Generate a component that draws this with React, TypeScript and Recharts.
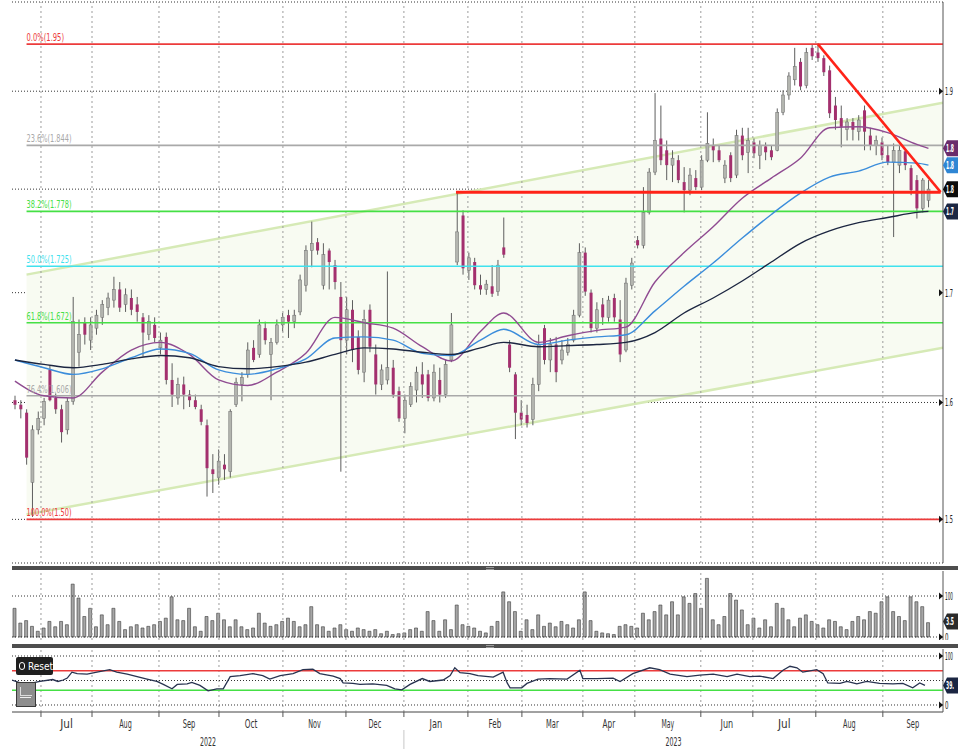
import React from 'react'
import { ComposedChart, Bar, Line, Area, XAxis, YAxis, CartesianGrid, ReferenceLine, ReferenceDot } from 'recharts'

// one slot = two sessions, x axis runs in slots (0..160)
// [open, high, low, close]
const candles: number[][] = [
  [1.602, 1.606, 1.594, 1.598], [1.598, 1.602, 1.586, 1.594], [1.591, 1.594, 1.546, 1.552], [1.531, 1.58, 1.502, 1.576],
  [1.576, 1.592, 1.572, 1.586], [1.586, 1.604, 1.58, 1.601], [1.629, 1.633, 1.601, 1.602], [1.604, 1.608, 1.59, 1.594],
  [1.594, 1.598, 1.565, 1.574], [1.576, 1.604, 1.572, 1.601], [1.601, 1.696, 1.598, 1.673], [1.645, 1.675, 1.632, 1.661],
  [1.672, 1.677, 1.652, 1.661], [1.656, 1.677, 1.647, 1.67], [1.667, 1.684, 1.661, 1.679], [1.677, 1.693, 1.67, 1.689],
  [1.686, 1.7, 1.679, 1.695], [1.693, 1.715, 1.686, 1.703], [1.703, 1.71, 1.682, 1.686], [1.689, 1.704, 1.682, 1.698],
  [1.695, 1.703, 1.679, 1.684], [1.689, 1.696, 1.673, 1.682], [1.677, 1.681, 1.641, 1.663], [1.661, 1.679, 1.656, 1.673],
  [1.67, 1.677, 1.654, 1.658], [1.649, 1.663, 1.643, 1.656], [1.659, 1.663, 1.616, 1.62], [1.62, 1.635, 1.596, 1.607],
  [1.604, 1.622, 1.598, 1.616], [1.616, 1.623, 1.594, 1.607], [1.607, 1.611, 1.596, 1.602], [1.602, 1.607, 1.594, 1.596],
  [1.594, 1.598, 1.58, 1.583], [1.58, 1.585, 1.519, 1.543], [1.542, 1.555, 1.522, 1.538], [1.535, 1.559, 1.529, 1.549],
  [1.546, 1.555, 1.533, 1.542], [1.54, 1.594, 1.535, 1.592], [1.598, 1.622, 1.596, 1.618], [1.616, 1.627, 1.601, 1.622],
  [1.625, 1.654, 1.622, 1.647], [1.649, 1.656, 1.636, 1.638], [1.643, 1.675, 1.64, 1.67], [1.667, 1.673, 1.652, 1.656],
  [1.643, 1.658, 1.602, 1.654], [1.654, 1.675, 1.652, 1.67], [1.67, 1.681, 1.664, 1.677], [1.679, 1.684, 1.658, 1.673],
  [1.673, 1.684, 1.667, 1.679], [1.682, 1.717, 1.679, 1.712], [1.707, 1.745, 1.701, 1.74], [1.74, 1.768, 1.724, 1.747],
  [1.748, 1.752, 1.736, 1.74], [1.707, 1.747, 1.703, 1.736], [1.74, 1.742, 1.703, 1.729], [1.726, 1.731, 1.703, 1.71],
  [1.696, 1.71, 1.54, 1.656], [1.656, 1.696, 1.643, 1.684], [1.684, 1.693, 1.636, 1.647], [1.659, 1.665, 1.625, 1.629],
  [1.627, 1.684, 1.618, 1.675], [1.684, 1.689, 1.645, 1.65], [1.643, 1.652, 1.607, 1.616], [1.616, 1.634, 1.611, 1.629],
  [1.62, 1.72, 1.616, 1.631], [1.631, 1.638, 1.604, 1.607], [1.61, 1.614, 1.583, 1.586], [1.586, 1.607, 1.573, 1.602],
  [1.598, 1.618, 1.596, 1.614], [1.611, 1.632, 1.6, 1.627], [1.625, 1.636, 1.604, 1.616], [1.625, 1.629, 1.601, 1.604],
  [1.604, 1.634, 1.601, 1.627], [1.62, 1.631, 1.6, 1.607], [1.607, 1.638, 1.604, 1.634], [1.638, 1.681, 1.636, 1.67],
  [1.729, 1.796, 1.726, 1.758], [1.774, 1.779, 1.717, 1.723], [1.721, 1.738, 1.712, 1.733], [1.729, 1.733, 1.703, 1.707],
  [1.707, 1.717, 1.698, 1.703], [1.703, 1.712, 1.698, 1.708], [1.706, 1.726, 1.696, 1.699], [1.701, 1.731, 1.697, 1.726],
  [1.743, 1.772, 1.733, 1.736], [1.652, 1.656, 1.627, 1.631], [1.625, 1.627, 1.568, 1.591], [1.591, 1.602, 1.58, 1.585],
  [1.589, 1.598, 1.578, 1.582], [1.585, 1.622, 1.58, 1.616], [1.616, 1.661, 1.61, 1.652], [1.667, 1.67, 1.634, 1.638],
  [1.638, 1.658, 1.627, 1.652], [1.652, 1.659, 1.618, 1.627], [1.638, 1.656, 1.634, 1.647], [1.645, 1.658, 1.642, 1.652],
  [1.656, 1.684, 1.654, 1.679], [1.679, 1.747, 1.677, 1.738], [1.738, 1.743, 1.697, 1.701], [1.7, 1.703, 1.663, 1.667],
  [1.667, 1.691, 1.663, 1.684], [1.689, 1.695, 1.67, 1.677], [1.677, 1.697, 1.673, 1.693], [1.695, 1.699, 1.673, 1.677],
  [1.675, 1.693, 1.636, 1.643], [1.647, 1.714, 1.645, 1.709], [1.707, 1.733, 1.703, 1.728], [1.75, 1.754, 1.742, 1.745],
  [1.745, 1.802, 1.742, 1.777], [1.777, 1.821, 1.775, 1.817], [1.817, 1.898, 1.814, 1.849], [1.851, 1.885, 1.824, 1.829],
  [1.839, 1.849, 1.809, 1.824], [1.824, 1.839, 1.807, 1.831], [1.829, 1.834, 1.806, 1.809], [1.807, 1.822, 1.777, 1.799],
  [1.799, 1.821, 1.794, 1.814], [1.811, 1.819, 1.799, 1.802], [1.802, 1.834, 1.799, 1.829], [1.829, 1.878, 1.827, 1.846],
  [1.844, 1.851, 1.827, 1.839], [1.839, 1.844, 1.827, 1.829], [1.811, 1.829, 1.806, 1.824], [1.834, 1.837, 1.807, 1.811],
  [1.814, 1.86, 1.811, 1.854], [1.854, 1.862, 1.829, 1.834], [1.837, 1.862, 1.816, 1.849], [1.847, 1.851, 1.831, 1.836],
  [1.834, 1.849, 1.82, 1.844], [1.843, 1.847, 1.829, 1.837], [1.839, 1.844, 1.829, 1.832], [1.839, 1.882, 1.838, 1.878],
  [1.878, 1.901, 1.875, 1.896], [1.896, 1.92, 1.891, 1.916], [1.912, 1.946, 1.906, 1.926], [1.931, 1.935, 1.901, 1.905],
  [1.906, 1.946, 1.903, 1.941], [1.946, 1.95, 1.933, 1.937], [1.941, 1.951, 1.931, 1.935], [1.935, 1.938, 1.916, 1.92],
  [1.922, 1.927, 1.872, 1.877], [1.885, 1.894, 1.86, 1.87], [1.872, 1.885, 1.842, 1.863], [1.86, 1.872, 1.849, 1.868],
  [1.868, 1.872, 1.849, 1.86], [1.858, 1.875, 1.849, 1.87], [1.88, 1.885, 1.839, 1.858], [1.854, 1.862, 1.839, 1.844],
  [1.844, 1.854, 1.834, 1.849], [1.847, 1.852, 1.829, 1.834], [1.834, 1.844, 1.824, 1.827], [1.827, 1.846, 1.753, 1.839],
  [1.824, 1.844, 1.816, 1.839], [1.838, 1.839, 1.819, 1.824], [1.821, 1.824, 1.794, 1.799], [1.809, 1.814, 1.771, 1.781],
  [1.781, 1.811, 1.777, 1.809], [1.789, 1.809, 1.782, 1.8],
]

const volumes = [
  70, 34, 40, 26, 14, 22, 38, 25, 38, 30, 129, 95, 50, 70, 25, 54, 30, 70, 38, 18,
  25, 30, 22, 26, 30, 38, 46, 98, 42, 40, 70, 25, 14, 50, 40, 58, 42, 25, 42, 25,
  18, 22, 58, 34, 26, 30, 38, 46, 38, 25, 30, 74, 30, 25, 14, 22, 30, 18, 14, 22,
  18, 14, 18, 8, 14, 6, 8, 10, 18, 22, 14, 62, 40, 14, 42, 18, 78, 30, 26, 22,
  14, 10, 26, 38, 110, 86, 62, 14, 42, 18, 54, 26, 34, 25, 38, 30, 22, 42, 110, 40,
  14, 10, 8, 6, 26, 30, 26, 22, 58, 42, 62, 78, 54, 86, 54, 98, 82, 106, 70, 143,
  42, 30, 50, 106, 90, 66, 30, 46, 22, 42, 25, 82, 70, 42, 25, 46, 54, 38, 30, 22,
  42, 38, 25, 18, 38, 50, 42, 62, 58, 86, 98, 62, 50, 40, 98, 86, 74, 35,
]

// moving averages read at these candle slots
const maSlots = [0, 5, 10, 15, 20, 25, 30, 35, 40, 45, 50, 55, 60, 65, 70, 75, 80, 84, 90, 95, 100, 105, 110, 115, 120, 125, 130, 135, 140, 145, 150, 155, 157]
const maFast = [1.619, 1.606, 1.604, 1.627, 1.647, 1.654, 1.643, 1.62, 1.615, 1.627, 1.644, 1.677, 1.672, 1.667, 1.65, 1.637, 1.664, 1.681, 1.654, 1.66, 1.665, 1.668, 1.71, 1.738, 1.763, 1.791, 1.811, 1.831, 1.862, 1.863, 1.857, 1.845, 1.841]
const maMid = [1.638, 1.631, 1.625, 1.63, 1.64, 1.648, 1.644, 1.629, 1.625, 1.63, 1.639, 1.658, 1.659, 1.656, 1.644, 1.642, 1.656, 1.666, 1.652, 1.656, 1.659, 1.661, 1.683, 1.706, 1.728, 1.752, 1.775, 1.796, 1.812, 1.818, 1.827, 1.826, 1.824]
const maSlow = [1.638, 1.634, 1.631, 1.634, 1.639, 1.642, 1.64, 1.632, 1.63, 1.632, 1.636, 1.643, 1.649, 1.648, 1.645, 1.643, 1.649, 1.654, 1.65, 1.651, 1.652, 1.654, 1.663, 1.681, 1.695, 1.711, 1.729, 1.747, 1.759, 1.767, 1.772, 1.777, 1.778]

const rsiX = [
  0, 1.4, 2.6, 3.6, 4.8, 7.0, 7.9, 8.8, 9.5, 10.3, 11.2, 12.9, 14.6, 16.8, 18.0, 19.8, 21.5, 23.2, 24.9, 26.0,
  27.5, 28.4, 30.1, 30.9, 32.3, 33.7, 35.2, 36.3, 37.5, 39.2, 41.4, 43.1, 44.3, 46.1, 48.3, 50.0, 51.7, 52.9, 55.2, 56.4,
  56.9, 58.6, 59.8, 62.0, 64.4, 65.8, 67.0, 68.4, 70.5, 71.8, 74.1, 75.3, 76.1, 77.0, 78.7, 80.1, 82.7, 84.4, 85.1, 85.6,
  87.6, 88.5, 90.4, 92.4, 95.4, 97.6, 98.1, 100.5, 103.3, 104.5, 106.7, 109.6, 111.3, 113.1, 116.0, 118.2, 120.5, 122.9, 124.6, 126.8,
  128.5, 130.8, 132.5, 133.7, 134.9, 135.9, 138.3, 139.4, 140.2, 142.3, 143.5, 145.2, 146.9, 149.1, 151.4, 153.1, 154.8, 156.0, 156.9,
]
const rsiVal = [
  51, 45, 35, 45, 48, 52, 48, 51, 55, 67, 64, 63, 67, 72, 67, 63, 58, 53, 48, 42,
  33, 42, 43, 46, 40, 29, 33, 33, 58, 60, 64, 60, 53, 60, 64, 72, 73, 64, 59, 54,
  45, 44, 42, 43, 40, 33, 31, 42, 54, 48, 51, 60, 76, 66, 64, 60, 57, 67, 45, 35,
  35, 44, 53, 54, 53, 71, 54, 54, 55, 48, 64, 76, 72, 63, 58, 61, 63, 58, 63, 58,
  59, 54, 71, 79, 76, 67, 72, 64, 45, 44, 48, 43, 48, 44, 43, 44, 35, 45, 40,
]

const monthStart = [4.98, 13.75, 25.26, 35.57, 46.56, 57.39, 67.35, 78.35, 87.63, 98.11, 107.04, 118.38, 127.32, 138.14, 149.66]
const monthNames = ['Jul', 'Aug', 'Sep', 'Oct', 'Nov', 'Dec', 'Jan', 'Feb', 'Mar', 'Apr', 'May', 'Jun', 'Jul', 'Aug', 'Sep']
const yearNames = ['2022', '2023']
const yearStart = 67.35

const fibLevels = [1.95, 1.844, 1.778, 1.725, 1.672, 1.606, 1.5]
const fibNames = ['0.0%(1.95)', '23.6%(1.844)', '38.2%(1.778)', '50.0%(1.725)', '61.8%(1.672)', '76.4%(1.606)', '100.0%(1.50)']
const fibColors = ['#ec3b3b', '#a9a9a9', '#45e045', '#3fe2ee', '#45e045', '#a9a9a9', '#ec3b3b']
const fibStart = 2.5

const channelSlots = [2.5, 160]
const channelLow = [1.504, 1.649]
const channelHigh = [1.717, 1.888]

const resistance = 1.797
const resistanceFrom = 76.3
const trendFrom = { x: 138.5, y: 1.95 }
const trendTo = { x: 159.6, y: 1.797 }

const priceTicks = [1.5, 1.6, 1.7, 1.8, 1.9]
const lastFast = 1.841
const lastMid = 1.824
const lastClose = 1.8
const lastSlow = 1.778
const lastVolume = 38
const lastRsi = 39.8

const END = 160
const FONT = "'Liberation Sans Narrow','DejaVu Sans Condensed','Liberation Sans',sans-serif"

const candleData = candles.map(([o, h, l, c], i) => ({ x: i + 0.5, o, h, l, c, range: [l, h] }))
const volData = volumes.map((v, i) => ({ x: i + 0.5, v }))
const maData = maSlots.map((s, k) => ({ x: s + 0.5, fast: maFast[k], mid: maMid[k], slow: maSlow[k] }))
const rsiData = rsiX.map((x, k) => ({ x, v: rsiVal[k] }))
const channelData = channelSlots.map((x, k) => ({ x, band: [channelLow[k], channelHigh[k]] }))
const monthMid = monthStart.map((m, k) => (m + (monthStart[k + 1] ?? END)) / 2)
const yearTicks = [yearStart / 2, yearStart, (yearStart + END) / 2]

// the side tags only have a few px before the window edge, so they show the leading digits
const short = (v: number) => String(Math.floor(v * 10) / 10)

const Candle = (props: any) => {
  const { x, y, width, height, payload } = props
  const { o, h, l, c } = payload
  const top = Math.min(y, y + height)
  const hh = Math.abs(height)
  const cx = x + width / 2
  const span = Math.log(h) - Math.log(l)
  const py = (p: number) => (span > 0 ? top + (hh * (Math.log(h) - Math.log(p))) / span : top)
  const up = c >= o
  const b1 = py(Math.max(o, c))
  const b2 = py(Math.min(o, c))
  return (
    <g>
      <line x1={cx} x2={cx} y1={top} y2={top + hh} stroke="#5e5e5e" strokeWidth={1} />
      <rect
        x={cx - 1.5}
        y={b1}
        width={3}
        height={Math.max(1, b2 - b1)}
        fill={up ? '#b3b5af' : '#a3306e'}
        stroke={up ? '#6c6c6c' : 'none'}
        strokeWidth={0.5}
      />
    </g>
  )
}

const arrowTick = (label: (v: number) => string, skip?: number) => (p: any) => {
  const v = p.payload.value
  if (v === skip) return <g />
  const s = label(v)
  return (
    <g>
      <path d={`M${p.x - 4},${p.y - 3.5}L${p.x},${p.y}L${p.x - 4},${p.y + 3.5}Z`} fill="#111" />
      <text x={p.x + 2} y={p.y + 4} fontSize={10} fill="#222" fontFamily={FONT}
        textLength={Math.min(8, s.length * 3.5)} lengthAdjust="spacingAndGlyphs">
        {s}
      </text>
    </g>
  )
}

const badge = (text: string, bg: string) => (p: any) => (
  <g>
    <path
      d={`M${p.cx},${p.cy}L${p.cx + 4},${p.cy - 8}L${p.cx + 15},${p.cy - 8}L${p.cx + 15},${p.cy + 8}L${p.cx + 4},${p.cy + 8}Z`}
      fill={bg}
    />
    <text x={p.cx + 3} y={p.cy + 4} fill="#fff" fontSize={10} fontWeight="bold" fontFamily={FONT}
      textLength={Math.min(8, text.length * 3.5)} lengthAdjust="spacingAndGlyphs">
      {text}
    </text>
  </g>
)

const fibLabel = (text: string, color: string) => (p: any) => (
  <text
    x={p.cx}
    y={p.cy - 3}
    fill={color}
    fontSize={11}
    fontFamily={FONT}
    textLength={text.length * 3.75}
    lengthAdjust="spacingAndGlyphs"
  >
    {text}
  </text>
)

const BoundaryTick = (p: any) => <line x1={p.x} x2={p.x} y1={p.y} y2={p.y + 5} stroke="#555" />

const MonthTick = (p: any) => {
  const k = monthMid.indexOf(p.payload.value)
  const name = monthNames[k] ?? ''
  return (
    <text x={p.x} y={p.y + 12} textAnchor="middle" fontSize={12} fill="#333" fontFamily={FONT}
      textLength={name.length * 4.2} lengthAdjust="spacingAndGlyphs">
      {name}
    </text>
  )
}

const YearTick = (p: any) => {
  const k = yearTicks.indexOf(p.payload.value)
  if (k === 1) return <line x1={p.x} x2={p.x} y1={p.y - 3} y2={p.y + 17} stroke="#c8c8c8" />
  const name = yearNames[k === 0 ? 0 : 1]
  return (
    <text x={p.x} y={p.y + 13} textAnchor="middle" fontSize={12} fill="#333" fontFamily={FONT}
      textLength={16} lengthAdjust="spacingAndGlyphs">
      {name}
    </text>
  )
}

const monthLines = (axis?: string) =>
  monthStart.map((m, k) => (
    <ReferenceLine key={'m' + k} xAxisId={axis} x={m} stroke="#9c9c9c" strokeDasharray="2 3" />
  ))

const MainPanel = () => (
  <ComposedChart width={958} height={566} data={candleData} margin={{ top: 2, right: 0, bottom: 3, left: 12 }}>
    <XAxis type="number" dataKey="x" domain={[0, END]} hide allowDataOverflow />
    <YAxis
      orientation="right"
      scale="log"
      domain={[1.4643, 1.9959]}
      ticks={priceTicks}
      interval={0}
      width={15}
      allowDataOverflow
      axisLine={{ stroke: '#555' }}
      tickLine={false}
      tickSize={0}
      tickMargin={0}
      tick={arrowTick((v) => v.toFixed(1), 1.8)}
    />
    <Area
      data={channelData}
      dataKey="band"
      type="linear"
      stroke="#d6eab6"
      strokeWidth={2.5}
      fill="#f8fbf2"
      fillOpacity={1}
      isAnimationActive={false}
    />
    <CartesianGrid vertical={false} stroke="#333" strokeDasharray="1 2" />
    {monthLines()}
    {fibLevels.map((lv, k) => (
      <ReferenceLine
        key={'f' + k}
        segment={[{ x: fibStart, y: lv }, { x: END, y: lv }]}
        stroke={fibColors[k]}
        strokeWidth={1.6}
        ifOverflow="visible"
      />
    ))}
    {fibLevels.map((lv, k) => (
      <ReferenceDot key={'fl' + k} x={fibStart} y={lv} r={0} shape={fibLabel(fibNames[k], fibColors[k])} ifOverflow="visible" />
    ))}
    <Bar dataKey="range" barSize={4} shape={Candle} isAnimationActive={false} />
    <Line data={maData} dataKey="fast" type="monotone" stroke="#8f4b91" strokeWidth={1.4} dot={false} isAnimationActive={false} />
    <Line data={maData} dataKey="mid" type="monotone" stroke="#3b8ddb" strokeWidth={1.4} dot={false} isAnimationActive={false} />
    <Line data={maData} dataKey="slow" type="monotone" stroke="#1c2641" strokeWidth={1.4} dot={false} isAnimationActive={false} />
    <ReferenceLine
      segment={[{ x: resistanceFrom, y: resistance }, { x: trendTo.x, y: resistance }]}
      stroke="#ff2318"
      strokeWidth={3}
      ifOverflow="visible"
    />
    <ReferenceLine segment={[trendFrom, trendTo]} stroke="#ff2318" strokeWidth={2.5} ifOverflow="visible" />
    <ReferenceDot x={END} y={lastFast} r={0} shape={badge(short(lastFast), '#6a2c6c')} ifOverflow="visible" />
    <ReferenceDot x={END} y={lastMid} r={0} shape={badge(short(lastMid), '#2f86d4')} ifOverflow="visible" />
    <ReferenceDot x={END} y={lastClose} r={0} shape={badge(short(lastClose), '#0c0c0c')} ifOverflow="visible" />
    <ReferenceDot x={END} y={lastSlow} r={0} shape={badge(short(lastSlow), '#1b2642')} ifOverflow="visible" />
  </ComposedChart>
)

const VolumePanel = () => (
  <ComposedChart width={958} height={69} data={volData} margin={{ top: 0, right: 0, bottom: 0, left: 12 }}>
    <XAxis type="number" dataKey="x" domain={[0, END]} hide allowDataOverflow />
    <YAxis
      orientation="right"
      domain={[-7.3, 161]}
      ticks={[0, 100]}
      interval={0}
      width={15}
      allowDataOverflow
      axisLine={{ stroke: '#555' }}
      tickLine={false}
      tickSize={0}
      tickMargin={0}
      tick={arrowTick((v) => String(v))}
    />
    {monthLines()}
    <ReferenceLine y={100} stroke="#333" strokeDasharray="1 2" />
    <ReferenceLine y={0} stroke="#333" strokeDasharray="1 2" />
    <Bar dataKey="v" barSize={3} fill="#a6a6a6" stroke="#3a3a3a" strokeWidth={0.6} isAnimationActive={false} />
    <ReferenceDot x={END} y={lastVolume} r={0} shape={badge('3.5', '#2a2a2a')} ifOverflow="visible" />
  </ComposedChart>
)

const RsiPanel = () => (
  <ComposedChart width={958} height={100} data={rsiData} margin={{ top: 0, right: 0, bottom: 0, left: 12 }}>
    <XAxis xAxisId="b" type="number" dataKey="x" domain={[0, END]} allowDataOverflow ticks={monthStart} interval={0}
      height={4} axisLine={{ stroke: '#444' }} tickLine={false} tickSize={0} tickMargin={0} tick={BoundaryTick} />
    <XAxis xAxisId="m" type="number" dataKey="x" domain={[0, END]} allowDataOverflow ticks={monthMid} interval={0}
      height={17} axisLine={false} tickLine={false} tickSize={0} tickMargin={0} tick={MonthTick} />
    <XAxis xAxisId="y" type="number" dataKey="x" domain={[0, END]} allowDataOverflow ticks={yearTicks} interval={0}
      height={16} axisLine={false} tickLine={false} tickSize={0} tickMargin={0} tick={YearTick} />
    <YAxis
      orientation="right"
      domain={[-14.3, 114.3]}
      ticks={[0, 100]}
      interval={0}
      width={15}
      allowDataOverflow
      axisLine={{ stroke: '#555' }}
      tickLine={false}
      tickSize={0}
      tickMargin={0}
      tick={arrowTick((v) => String(v))}
    />
    {monthLines('b')}
    <ReferenceLine xAxisId="b" y={100} stroke="#333" strokeDasharray="1 2" />
    <ReferenceLine xAxisId="b" y={50} stroke="#333" strokeDasharray="1 2" />
    <ReferenceLine xAxisId="b" y={0} stroke="#333" strokeDasharray="1 2" />
    <ReferenceLine xAxisId="b" y={70} stroke="#ec3b3b" strokeWidth={1.5} />
    <ReferenceLine xAxisId="b" y={30} stroke="#45e045" strokeWidth={1.5} />
    <Line xAxisId="b" dataKey="v" type="linear" stroke="#283350" strokeWidth={1.3} dot={false} isAnimationActive={false} />
    <ReferenceDot xAxisId="b" x={END} y={lastRsi} r={0} shape={badge(String(Math.floor(lastRsi)) + '.', '#1b2642')} ifOverflow="visible" />
  </ComposedChart>
)

const Separator = ({ top }: { top: number }) => (
  <div style={{ position: 'absolute', left: 12, top, width: 946, height: 4, background: '#4e4e4e' }}>
    <div style={{ position: 'absolute', left: 474, top: 1, width: 8, height: 1, background: '#9a9a9a' }} />
    <div style={{ position: 'absolute', left: 474, top: 3, width: 8, height: 1, background: '#9a9a9a' }} />
  </div>
)

export default function App() {
  return (
    <div style={{ position: 'absolute', left: 0, top: 0, width: 958, height: 749, background: '#fff', overflow: 'hidden' }}>
      <div style={{ position: 'absolute', left: 0, top: 0 }}>
        <MainPanel />
      </div>
      <Separator top={566} />
      <div style={{ position: 'absolute', left: 0, top: 571 }}>
        <VolumePanel />
      </div>
      <Separator top={644} />
      <div style={{ position: 'absolute', left: 0, top: 649 }}>
        <RsiPanel />
      </div>
      <div
        style={{
          position: 'absolute', left: 16, top: 657, width: 37, height: 18, background: '#1f1f1f', borderRadius: 2,
          color: '#fff', fontSize: 10, fontFamily: FONT, display: 'flex', alignItems: 'center', gap: 3, paddingLeft: 3,
          boxSizing: 'border-box',
        }}
      >
        <span style={{ width: 6, height: 6, borderRadius: 4, border: '1.5px solid #fff', display: 'inline-block' }} />
        Reset
      </div>
      <div
        style={{
          position: 'absolute', left: 16, top: 682, width: 20, height: 25, background: '#8d8d8d',
          border: '1px solid #3a3a3a', boxSizing: 'border-box',
        }}
      >
        <div style={{ position: 'absolute', left: 3, top: 14, width: 11, height: 1, background: '#eee' }} />
        <div style={{ position: 'absolute', left: 3, top: 4, width: 11, height: 8, borderBottom: '1px solid #ddd', borderLeft: '1px solid #ddd' }} />
      </div>
    </div>
  )
}
